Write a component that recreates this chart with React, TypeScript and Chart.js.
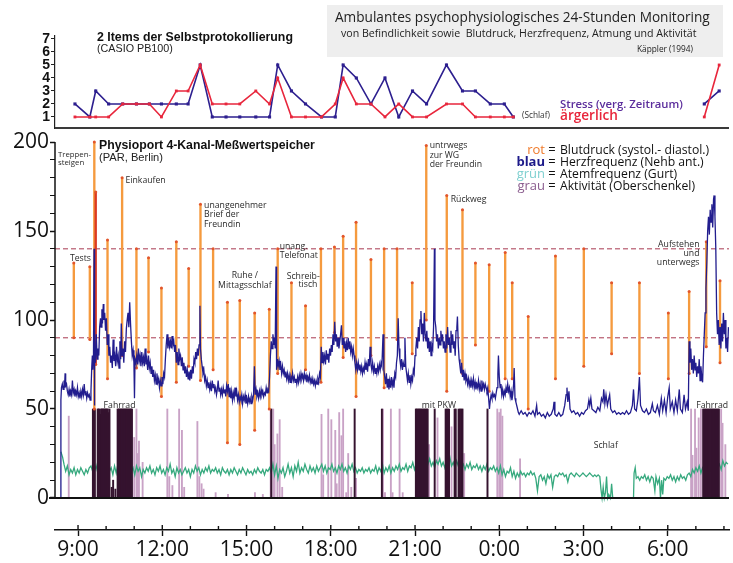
import React, { useEffect, useRef } from 'react';
import { Chart, registerables } from 'chart.js';

Chart.register(...registerables);

// Time axis in hours counted from midnight of the first day (24 = 0:00 next day)
const X_MIN = 8.18;
const X_MAX = 32.18;
const HOUR_TICKS = [9, 10, 11, 12, 13, 14, 15, 16, 17, 18, 19, 20, 21, 22, 23, 24, 25, 26, 27, 28, 29, 30, 31, 32];
const MAIN_TICKS = [0, 10, 20, 30, 40, 50, 60, 70, 80, 90, 100, 110, 120, 130, 140, 150, 160, 170, 180, 190, 200];
const SCORE_TICKS = [1, 2, 3, 4, 5, 6, 7];
const REF_LEVELS = [140, 90];

// Self-report items (CASIO PB100)
const SELF_TIMES = [8.89, 9.42, 9.63, 10.09, 10.59, 11.08, 11.54, 11.97, 12.5, 12.92, 13.35, 13.78, 14.27, 14.76, 15.33, 15.82, 16.11, 16.6, 17.1, 17.67, 18.16, 18.44, 18.91, 19.43, 19.93, 20.42, 20.91, 21.41, 22.12, 22.69, 23.15, 23.68, 24.18, 24.5, 28.0, 31.3, 31.83];
const STRESS = [2, 1, 3, 2, 2, 2, 2, 2, 2, 2, 5, 1, 1, 1, 1, 1, 5, 3, 2, 1, 1, 5, 4, 2, 4, 1, 3, 2, 5, 3, 3, 2, 2, 1, null, 2, 3];
const ANGER = [1, 1, 1, 1, 2, 2, 2, 1, 3, 3, 5, 2, 2, 2, 3, 2, 4, 1, 1, 1, 2, 4, 2, 2, 1, 2, 1, 1, 2, 2, 1, 1, 1, 1, null, 1, 5];

// Blood pressure readings (systolic / diastolic, mmHg)
const BP_TIMES = [8.85, 9.42, 9.58, 9.63, 10.05, 10.57, 11.08, 11.51, 11.97, 12.5, 12.94, 13.36, 13.81, 14.32, 14.76, 15.29, 15.81, 16.11, 16.6, 17.1, 17.65, 18.13, 18.44, 18.9, 19.43, 19.9, 20.36, 20.9, 21.4, 22.13, 22.69, 23.15, 23.64, 24.21, 24.46, 25.03, 26.0, 27.01, 28.0, 28.99, 30.02, 30.76, 31.37, 31.86];
const BP_SYS = [132, 130, 200, 172, 145, 180, 140, 135, 118, 144, 129, 165, 140, 110, 111, 104, 106, 140, 121, 108, 140, 141, 147, 155, 134, 140, 140, 121, 198, 170, 162, 132, 131, 138, 121, 102, 136, 140, 121, 121, 104, 116, 144, 122];
const BP_DIA = [90, 89, 50, 75, 67, 80, 73, 82, 57, 65, 74, 66, 72, 31, 30, 38, 50, 70, 68, 72, 65, 93, 79, 57, 80, 62, 89, 81, 100, 60, 70, 86, 60, 67, 67, 50, 67, 74, 81, 70, 67, 70, 85, 76];

// Heart rate trace [hour, bpm]
const HR_TRACE: [number, number][] = [
  [8.385, 0], [8.39, 55], [8.41, 62], [8.44, 64], [8.47, 61], [8.5, 66], [8.52, 62], [8.54, 70], [8.56, 63], [8.59, 64], [8.62, 60], [8.65, 58], [8.68, 61], [8.71, 57], [8.74, 60], [8.77, 58], [8.8, 66], [8.83, 59], [8.86, 61], [8.89, 57], [8.92, 60], [8.95, 58], [8.98, 62], [9.01, 57], [9.04, 59], [9.07, 56], [9.1, 60], [9.13, 57], [9.16, 61], [9.19, 58], [9.22, 64], [9.25, 58], [9.28, 60], [9.31, 56], [9.34, 59], [9.37, 57], [9.4, 58], [9.43, 55], [9.46, 60],
  [9.49, 74], [9.51, 80], [9.53, 72], [9.55, 78], [9.57, 140], [9.58, 52], [9.6, 80], [9.62, 76], [9.65, 92], [9.68, 78], [9.71, 84], [9.74, 80], [9.77, 96], [9.8, 101], [9.82, 96], [9.85, 106], [9.87, 98], [9.9, 109], [9.92, 100], [9.95, 104], [9.98, 94], [10.01, 101], [10.04, 86], [10.07, 92], [10.1, 80], [10.13, 85], [10.16, 76], [10.19, 80], [10.22, 73], [10.25, 89], [10.28, 77], [10.31, 80], [10.34, 74], [10.37, 85], [10.4, 77], [10.43, 80], [10.46, 73], [10.49, 88], [10.52, 78], [10.54, 98], [10.57, 80], [10.6, 84], [10.63, 76], [10.66, 88], [10.69, 82], [10.72, 95], [10.75, 100], [10.78, 104], [10.81, 96], [10.84, 110], [10.87, 98], [10.9, 88], [10.93, 80], [10.96, 83], [10.99, 76], [11.01, 56], [11.03, 78],
  [11.06, 76], [11.09, 80], [11.12, 75], [11.15, 84], [11.18, 77], [11.21, 80], [11.24, 74], [11.27, 82], [11.3, 76], [11.33, 79], [11.36, 74], [11.39, 84], [11.42, 75], [11.45, 78], [11.48, 72], [11.51, 80], [11.54, 73], [11.57, 76], [11.6, 70], [11.63, 74], [11.66, 68], [11.69, 72], [11.72, 66], [11.75, 69], [11.78, 64], [11.81, 70], [11.84, 65], [11.87, 67], [11.9, 62], [11.93, 66], [11.96, 63], [11.99, 68], [12.02, 64], [12.05, 70], [12.08, 68], [12.11, 78], [12.14, 86], [12.17, 92], [12.2, 84], [12.23, 90], [12.26, 85], [12.29, 88], [12.32, 84], [12.35, 91], [12.38, 86], [12.41, 88], [12.44, 82], [12.47, 86], [12.5, 76], [12.53, 82], [12.56, 75], [12.59, 84], [12.62, 78], [12.65, 80], [12.68, 74], [12.71, 79], [12.74, 72], [12.77, 76], [12.8, 70], [12.83, 74], [12.86, 68], [12.89, 72], [12.92, 67], [12.95, 71], [12.98, 66],
  [13.01, 72], [13.04, 67], [13.07, 74], [13.1, 70], [13.13, 78], [13.16, 76], [13.19, 82], [13.22, 78], [13.25, 84], [13.28, 80], [13.31, 86], [13.34, 108], [13.36, 84], [13.39, 78], [13.42, 74], [13.45, 70], [13.48, 72], [13.51, 66], [13.54, 68], [13.57, 63], [13.6, 66], [13.63, 62], [13.66, 65], [13.69, 61], [13.72, 64], [13.75, 60], [13.78, 66], [13.81, 62], [13.84, 64], [13.87, 60], [13.9, 62], [13.93, 58], [13.96, 61], [13.99, 66], [14.02, 60], [14.05, 62], [14.08, 58], [14.11, 61], [14.14, 58], [14.17, 62], [14.2, 59], [14.23, 61], [14.26, 57], [14.29, 63], [14.32, 60], [14.35, 64], [14.38, 57], [14.41, 62], [14.44, 56], [14.47, 60], [14.5, 55], [14.53, 59], [14.56, 56], [14.59, 62], [14.62, 57], [14.65, 60], [14.68, 55], [14.71, 58], [14.74, 54], [14.77, 57], [14.8, 55], [14.83, 58], [14.86, 53], [14.89, 57], [14.92, 55], [14.95, 58], [14.98, 53],
  [15.01, 56], [15.04, 53], [15.07, 57], [15.1, 54], [15.13, 56], [15.16, 53], [15.19, 57], [15.22, 55], [15.25, 58], [15.28, 74], [15.31, 58], [15.34, 61], [15.37, 57], [15.4, 59], [15.43, 56], [15.46, 60], [15.49, 57], [15.52, 61], [15.55, 58], [15.58, 60], [15.61, 57], [15.64, 59], [15.67, 58], [15.7, 62], [15.73, 59], [15.76, 61], [15.79, 60], [15.82, 68], [15.85, 80], [15.88, 88], [15.91, 84], [15.94, 92], [15.97, 86], [16.0, 90], [16.02, 84], [16.05, 130], [16.07, 72], [16.1, 78], [16.13, 74], [16.16, 77], [16.19, 72], [16.22, 75], [16.25, 70], [16.28, 74], [16.31, 70], [16.34, 72], [16.37, 68], [16.4, 71], [16.43, 67], [16.46, 70], [16.49, 66], [16.52, 69], [16.55, 65], [16.58, 68], [16.61, 66], [16.64, 70], [16.67, 66], [16.7, 68], [16.73, 65], [16.76, 67], [16.79, 64], [16.82, 68], [16.85, 65], [16.88, 69], [16.91, 66], [16.94, 70], [16.97, 67],
  [17.0, 69], [17.03, 66], [17.06, 70], [17.09, 67], [17.12, 69], [17.15, 65], [17.18, 68], [17.21, 66], [17.24, 69], [17.27, 65], [17.3, 67], [17.33, 64], [17.36, 67], [17.39, 64], [17.42, 66], [17.45, 63], [17.48, 66], [17.51, 64], [17.54, 67], [17.57, 65], [17.6, 70], [17.63, 68], [17.66, 85], [17.69, 76], [17.72, 82], [17.75, 77], [17.78, 80], [17.81, 75], [17.84, 83], [17.87, 78], [17.9, 81], [17.93, 76], [17.96, 84], [17.99, 80], [18.02, 86], [18.05, 82], [18.08, 92], [18.11, 86], [18.14, 99], [18.17, 88], [18.2, 92], [18.23, 85], [18.26, 90], [18.29, 84], [18.32, 88], [18.35, 92], [18.38, 97], [18.41, 86], [18.44, 90], [18.47, 84], [18.5, 88], [18.53, 82], [18.56, 87], [18.59, 83], [18.62, 90], [18.65, 84], [18.68, 88], [18.71, 82], [18.74, 85], [18.77, 80], [18.8, 84], [18.83, 80], [18.86, 76], [18.89, 72], [18.92, 76], [18.95, 72], [18.98, 76],
  [19.01, 72], [19.04, 75], [19.07, 71], [19.1, 74], [19.13, 70], [19.16, 73], [19.19, 71], [19.22, 76], [19.25, 72], [19.28, 75], [19.31, 71], [19.34, 78], [19.37, 74], [19.4, 85], [19.43, 75], [19.46, 72], [19.49, 76], [19.52, 71], [19.55, 74], [19.58, 70], [19.61, 73], [19.64, 70], [19.67, 74], [19.7, 71], [19.73, 75], [19.76, 72], [19.79, 76], [19.82, 74], [19.86, 92], [19.89, 72], [19.92, 68], [19.95, 64], [19.98, 70], [20.01, 62], [20.04, 67], [20.07, 61], [20.1, 66], [20.13, 62], [20.16, 68], [20.19, 63], [20.22, 66], [20.25, 62], [20.28, 70], [20.31, 68], [20.34, 76], [20.37, 80], [20.4, 101], [20.43, 84], [20.46, 78], [20.49, 74], [20.52, 78], [20.55, 72], [20.58, 76], [20.61, 74], [20.64, 90], [20.67, 74], [20.7, 70], [20.73, 66], [20.76, 70], [20.79, 65], [20.82, 69], [20.85, 64], [20.88, 68], [20.91, 66], [20.94, 72], [20.97, 70],
  [21.0, 80], [21.03, 84], [21.06, 90], [21.09, 84], [21.12, 96], [21.15, 88], [21.18, 100], [21.21, 105], [21.24, 92], [21.27, 98], [21.3, 88], [21.33, 104], [21.36, 92], [21.39, 88], [21.42, 94], [21.45, 84], [21.48, 90], [21.51, 82], [21.54, 88], [21.57, 80], [21.6, 86], [21.63, 84], [21.66, 96], [21.69, 140], [21.71, 100], [21.74, 96], [21.77, 88], [21.8, 92], [21.83, 84], [21.86, 90], [21.89, 86], [21.92, 94], [21.95, 88], [21.98, 92], [22.01, 84], [22.04, 88], [22.07, 82], [22.1, 92], [22.13, 84], [22.16, 96], [22.19, 86], [22.22, 90], [22.25, 82], [22.28, 94], [22.31, 86], [22.34, 92], [22.37, 84], [22.4, 88], [22.43, 80], [22.46, 94], [22.49, 96], [22.51, 102], [22.54, 86], [22.57, 78], [22.6, 74], [22.63, 70], [22.66, 76], [22.69, 68], [22.72, 72], [22.75, 66], [22.78, 70], [22.81, 66], [22.84, 68], [22.87, 64], [22.9, 67], [22.93, 63], [22.96, 66], [22.99, 62],
  [23.02, 66], [23.05, 63], [23.08, 67], [23.11, 62], [23.14, 65], [23.17, 61], [23.2, 64], [23.23, 62], [23.26, 66], [23.29, 61], [23.32, 64], [23.35, 60], [23.38, 66], [23.41, 62], [23.44, 64], [23.47, 61], [23.5, 64], [23.53, 62], [23.56, 60], [23.59, 62], [23.62, 56], [23.65, 50], [23.68, 55], [23.71, 58], [23.74, 56], [23.77, 59], [23.8, 57], [23.83, 58], [23.86, 56], [23.89, 59], [23.92, 62], [23.95, 70], [23.97, 80], [24.0, 68], [24.03, 62], [24.06, 64], [24.09, 58], [24.12, 61], [24.15, 57], [24.18, 60], [24.21, 58], [24.24, 62], [24.27, 59], [24.3, 64], [24.33, 60], [24.36, 62], [24.39, 57], [24.42, 60], [24.45, 55], [24.48, 58], [24.51, 64], [24.53, 73], [24.56, 56], [24.59, 54], [24.62, 52], [24.65, 50], [24.68, 48],
  [24.71, 47], [24.78, 49], [24.85, 47], [24.92, 48], [24.99, 46], [25.06, 48], [25.13, 47], [25.2, 49], [25.27, 46], [25.33, 52], [25.36, 47], [25.43, 48], [25.5, 46], [25.57, 47], [25.64, 45], [25.71, 48], [25.78, 46], [25.85, 47], [25.92, 50], [25.95, 54], [25.98, 47], [26.05, 46], [26.12, 48], [26.19, 46], [26.26, 47], [26.33, 52], [26.38, 58], [26.41, 62], [26.44, 54], [26.48, 60], [26.52, 50], [26.58, 48], [26.65, 49], [26.72, 47], [26.79, 48], [26.86, 46], [26.93, 48], [27.0, 47], [27.07, 49], [27.14, 50], [27.19, 55], [27.22, 52], [27.26, 56], [27.3, 50], [27.37, 49], [27.44, 48], [27.51, 51], [27.58, 49], [27.64, 56], [27.69, 54], [27.72, 61], [27.76, 53], [27.8, 58], [27.85, 52], [27.9, 56], [27.93, 58], [27.97, 50],
  [28.04, 48], [28.11, 49], [28.18, 47], [28.25, 48], [28.32, 47], [28.39, 48], [28.46, 47], [28.53, 49], [28.6, 47], [28.67, 48], [28.74, 52], [28.78, 61], [28.82, 50], [28.88, 49], [28.94, 56], [28.99, 68], [29.03, 52], [29.1, 49], [29.17, 48], [29.24, 50], [29.31, 47], [29.38, 48], [29.45, 53], [29.49, 49], [29.56, 48], [29.63, 52], [29.7, 47], [29.77, 56], [29.82, 49], [29.88, 55], [29.94, 48], [30.0, 57], [30.05, 62], [30.09, 50], [30.16, 54], [30.22, 48], [30.28, 55], [30.34, 49], [30.41, 61], [30.45, 50], [30.52, 48], [30.58, 58], [30.63, 50], [30.69, 54], [30.73, 49],
  [30.76, 88], [30.79, 76], [30.82, 84], [30.85, 72], [30.88, 78], [30.91, 70], [30.94, 80], [30.97, 72], [31.0, 76], [31.03, 68], [31.06, 74], [31.09, 70], [31.12, 78], [31.15, 66], [31.18, 74], [31.21, 68], [31.24, 65], [31.27, 80], [31.3, 92], [31.33, 104], [31.36, 118], [31.39, 132], [31.42, 150], [31.45, 158], [31.48, 148], [31.51, 162], [31.54, 155], [31.57, 165], [31.6, 152], [31.63, 168], [31.65, 170], [31.68, 158], [31.71, 140], [31.74, 104], [31.77, 92], [31.8, 100], [31.83, 86], [31.86, 96], [31.89, 84], [31.92, 98], [31.95, 88], [31.98, 104], [32.01, 92], [32.04, 100], [32.07, 84], [32.1, 90], [32.13, 82], [32.16, 96],
];

// Respiration trace [hour, breaths/min]
const RESP_TRACE: [number, number][] = [
  [8.39, 26], [8.45, 23], [8.5, 19], [8.56, 15], [8.62, 18], [8.68, 13], [8.74, 16], [8.8, 14], [8.86, 17], [8.92, 13], [8.98, 16], [9.04, 14], [9.1, 17], [9.16, 15], [9.22, 13], [9.28, 16], [9.34, 14], [9.4, 17], [9.46, 18], [9.52, 15], [9.58, 19], [9.64, 16], [9.7, 20], [9.76, 15], [9.82, 18], [9.88, 14], [9.94, 19], [10.0, 16], [10.06, 21], [10.12, 15], [10.18, 17], [10.24, 13], [10.3, 18], [10.36, 14], [10.42, 19], [10.48, 16], [10.54, 20], [10.6, 15], [10.66, 18], [10.72, 14], [10.78, 17], [10.84, 19], [10.9, 15], [10.96, 17],
  [11.02, 13], [11.08, 18], [11.14, 15], [11.2, 17], [11.26, 12], [11.32, 16], [11.38, 14], [11.44, 17], [11.5, 15], [11.56, 18], [11.62, 14], [11.68, 16], [11.74, 13], [11.8, 17], [11.86, 15], [11.92, 18], [11.98, 14], [12.04, 16], [12.1, 13], [12.16, 17], [12.22, 15], [12.28, 19], [12.34, 14], [12.4, 16], [12.46, 12], [12.52, 17], [12.58, 14], [12.64, 16], [12.7, 13], [12.76, 15], [12.82, 17], [12.88, 14], [12.94, 16],
  [13.0, 12], [13.06, 16], [13.12, 14], [13.18, 18], [13.24, 15], [13.3, 17], [13.36, 13], [13.42, 16], [13.48, 14], [13.54, 17], [13.6, 15], [13.66, 18], [13.72, 14], [13.78, 16], [13.84, 15], [13.9, 17], [13.96, 14], [14.02, 16], [14.08, 13], [14.14, 17], [14.2, 15], [14.26, 14], [14.32, 16], [14.38, 13], [14.44, 16], [14.5, 14], [14.56, 17], [14.62, 15], [14.68, 13], [14.74, 16], [14.8, 14], [14.86, 17], [14.92, 15], [14.98, 13],
  [15.04, 16], [15.1, 14], [15.16, 15], [15.22, 13], [15.28, 16], [15.34, 14], [15.4, 17], [15.46, 15], [15.52, 14], [15.58, 16], [15.64, 13], [15.7, 16], [15.76, 15], [15.82, 17], [15.88, 14], [15.94, 19], [16.0, 13], [16.06, 18], [16.12, 11], [16.18, 16], [16.24, 14], [16.3, 17], [16.36, 12], [16.42, 15], [16.48, 19], [16.54, 14], [16.6, 17], [16.66, 12], [16.72, 18], [16.78, 15], [16.84, 20], [16.9, 14], [16.96, 17],
  [17.02, 15], [17.08, 19], [17.14, 16], [17.2, 14], [17.26, 18], [17.32, 15], [17.38, 17], [17.44, 14], [17.5, 18], [17.56, 15], [17.62, 17], [17.68, 19], [17.74, 15], [17.8, 18], [17.86, 14], [17.92, 17], [17.98, 16], [18.04, 19], [18.1, 15], [18.16, 17], [18.22, 14], [18.28, 18], [18.34, 16], [18.4, 19], [18.46, 15], [18.52, 17], [18.58, 14], [18.64, 18], [18.7, 16], [18.76, 19], [18.82, 15], [18.88, 17], [18.94, 14],
  [19.0, 16], [19.06, 15], [19.12, 17], [19.18, 14], [19.24, 16], [19.3, 15], [19.36, 17], [19.42, 14], [19.48, 16], [19.54, 15], [19.6, 18], [19.66, 14], [19.72, 17], [19.78, 15], [19.84, 19], [19.9, 14], [19.96, 17], [20.02, 15], [20.08, 18], [20.14, 14], [20.2, 17], [20.26, 15], [20.32, 18], [20.38, 16], [20.44, 19], [20.5, 15], [20.56, 17], [20.62, 16], [20.68, 19], [20.74, 15], [20.8, 18], [20.86, 17], [20.92, 20], [20.98, 16],
  [21.04, 19], [21.1, 17], [21.16, 21], [21.22, 18], [21.28, 20], [21.34, 17], [21.4, 21], [21.46, 19], [21.52, 22], [21.58, 18], [21.64, 20], [21.7, 17], [21.76, 21], [21.82, 19], [21.88, 22], [21.94, 18], [22.0, 20], [22.06, 17], [22.12, 21], [22.18, 19], [22.24, 23], [22.3, 18], [22.36, 20], [22.42, 17], [22.48, 21], [22.54, 18], [22.6, 20], [22.66, 17], [22.72, 19], [22.78, 16], [22.84, 19], [22.9, 17], [22.96, 20],
  [23.02, 16], [23.08, 18], [23.14, 17], [23.2, 19], [23.26, 16], [23.32, 18], [23.38, 15], [23.44, 18], [23.5, 16], [23.56, 19], [23.62, 15], [23.68, 17], [23.74, 16], [23.8, 18], [23.86, 15], [23.92, 17], [23.98, 14], [24.04, 18], [24.1, 13], [24.16, 16], [24.22, 12], [24.28, 15], [24.34, 14], [24.4, 17], [24.46, 12], [24.52, 15], [24.58, 11], [24.64, 14], [24.7, 12], [24.76, 15], [24.82, 13], [24.88, 14], [24.94, 12],
  [25.0, 14], [25.06, 13], [25.12, 15], [25.18, 13], [25.24, 14], [25.3, 11], [25.36, 4], [25.42, 12], [25.48, 13], [25.54, 10], [25.6, 12], [25.66, 8], [25.72, 13], [25.78, 11], [25.84, 13], [25.9, 6], [25.96, 12], [26.02, 13], [26.08, 12], [26.14, 14], [26.2, 13], [26.26, 14], [26.32, 12], [26.38, 13], [26.44, 9], [26.5, 13], [26.56, 14], [26.62, 13], [26.68, 12], [26.74, 14], [26.8, 13], [26.86, 12], [26.92, 13], [26.98, 14],
  [27.04, 13], [27.1, 12], [27.16, 13], [27.22, 14], [27.28, 13], [27.34, 12], [27.4, 13], [27.46, 12], [27.52, 13], [27.58, 12], [27.62, 5], [27.66, 0], [27.7, 6], [27.74, 0], [27.78, 3], [27.82, 12], [27.86, 0], [27.9, 2], [27.96, 0], [28.0, 8], [28.04, 0], [28.1, 0], [28.5, 0], [28.78, 0],
  [28.8, 14], [28.84, 17], [28.88, 11], [28.94, 12], [29.0, 10], [29.06, 12], [29.12, 11], [29.18, 13], [29.24, 10], [29.3, 12], [29.36, 9], [29.42, 12], [29.48, 11], [29.54, 4], [29.58, 12], [29.64, 8], [29.7, 11], [29.74, 0], [29.78, 10], [29.82, 2], [29.86, 11], [29.92, 10], [29.98, 12],
  [30.04, 11], [30.1, 13], [30.16, 10], [30.22, 12], [30.28, 9], [30.34, 12], [30.4, 10], [30.46, 13], [30.52, 11], [30.58, 12], [30.64, 10], [30.7, 13], [30.76, 14], [30.82, 12], [30.88, 16], [30.94, 14], [31.0, 17], [31.06, 15], [31.12, 18], [31.18, 14], [31.24, 17], [31.3, 15], [31.36, 19], [31.42, 16], [31.48, 18], [31.54, 15], [31.6, 19], [31.66, 16], [31.72, 20], [31.78, 17], [31.84, 19], [31.9, 16], [31.96, 21], [32.02, 18], [32.08, 20], [32.14, 19],
];

// Thigh activity, light strokes [hour, level]
const ACT_LIGHT: [number, number][] = [
  [8.67, 46], [11.0, 34], [11.08, 50], [11.13, 25], [11.17, 32], [11.3, 20], [12.18, 50], [12.25, 12], [12.36, 7], [12.6, 50], [12.7, 38], [12.78, 6], [13.25, 43], [13.32, 12], [13.4, 8], [13.47, 5], [13.9, 3], [14.34, 2], [15.3, 3], [15.58, 2],
  [15.86, 50], [15.95, 50], [16.0, 30], [16.1, 36], [16.18, 44], [16.27, 6], [17.67, 47], [17.73, 13], [17.91, 50], [18.02, 44], [18.16, 38], [18.21, 8], [18.3, 48], [18.38, 35], [18.44, 50], [18.55, 3], [18.62, 25], [18.73, 6], [18.9, 11],
  [19.86, 50], [19.93, 3], [20.14, 50], [20.2, 3], [20.45, 50], [20.56, 3], [21.5, 30], [21.8, 45], [22.3, 40], [22.75, 25], [23.93, 50], [24.0, 48], [24.05, 50], [24.11, 46], [24.74, 22],
  [30.83, 50], [30.88, 24], [30.97, 50], [31.02, 28], [31.1, 45], [31.18, 50], [31.9, 50], [31.95, 42], [32.05, 30],
];

// Thigh activity, dense strokes [hour, level]
const ACT_DARK: [number, number][] = [
  [9.53, 50], [9.57, 50], [9.6, 50],
  [9.7, 50], [9.73, 50], [9.76, 50], [9.79, 47], [9.82, 50], [9.85, 50], [9.88, 50], [9.91, 50], [9.94, 50], [9.97, 50], [10.0, 50], [10.03, 50], [10.06, 50], [10.09, 48], [10.12, 50],
  [10.2, 6], [10.25, 10], [10.33, 5],
  [10.41, 50], [10.44, 50], [10.47, 50], [10.5, 50], [10.53, 50], [10.56, 50], [10.59, 50], [10.62, 50], [10.65, 50], [10.68, 50], [10.71, 50], [10.74, 50], [10.77, 50], [10.8, 50], [10.83, 50], [10.86, 50], [10.89, 50], [10.92, 50],
  [15.88, 50], [18.85, 50], [19.82, 50],
  [21.03, 50], [21.06, 50], [21.1, 50], [21.14, 50], [21.18, 50], [21.22, 50], [21.26, 50], [21.3, 50], [21.34, 50], [21.38, 50], [21.42, 50], [21.45, 50],
  [21.7, 50], [22.09, 50], [22.13, 50], [22.17, 50], [22.21, 50], [22.41, 50], [22.45, 50], [22.55, 50], [22.6, 50], [22.65, 50], [22.69, 50], [23.58, 50],
  [31.26, 50], [31.3, 50], [31.34, 50], [31.38, 50], [31.42, 50], [31.46, 50], [31.5, 50], [31.54, 50], [31.58, 50], [31.62, 50], [31.66, 50], [31.7, 50], [31.74, 50], [31.78, 50], [31.82, 50],
];

// Event notes placed at [hour, value] on the physiological panel
type Note = { h: number; v: number; lines: string[]; align?: CanvasTextAlign; size?: number; gap?: number };
const NOTES: Note[] = [
  { h: 8.285, v: 191.6, lines: ['Treppen-', 'steigen'], size: 7.8, gap: 8 },
  { h: 10.69, v: 177, lines: ['Einkaufen'] },
  { h: 13.49, v: 163, lines: ['unangenehmer', 'Brief der', 'Freundin'], gap: 9.5 },
  { h: 8.71, v: 133.1, lines: ['Tests'] },
  { h: 14.94, v: 123.6, lines: ['Ruhe /', 'Mittagsschlaf'], align: 'center', gap: 10 },
  { h: 16.18, v: 139.9, lines: ['unang.', 'Telefonat'] },
  { h: 16.43, v: 123, lines: ['Schreib-'] },
  { h: 16.85, v: 118.5, lines: ['tisch'] },
  { h: 21.52, v: 196.6, lines: ['untrwegs', 'zur WG', 'der Freundin'], gap: 9.5 },
  { h: 22.27, v: 166.3, lines: ['Rückweg'] },
  { h: 31.13, v: 141, lines: ['Aufstehen', 'und', 'unterwegs'], align: 'right' },
  { h: 9.91, v: 50.6, lines: ['Fahrrad'] },
  { h: 21.24, v: 50.6, lines: ['mit PKW'] },
  { h: 31.01, v: 50.6, lines: ['Fahrrad'] },
  { h: 27.36, v: 28.1, lines: ['Schlaf'] },
];

const LEGEND = [
  { word: 'rot', color: '#f07a2a', weight: 'normal', text: 'Blutdruck (systol.- diastol.)' },
  { word: 'blau', color: '#1d1a8a', weight: 'bold', text: 'Herzfrequenz (Nehb ant.)' },
  { word: 'grün', color: '#7fd0d0', weight: 'normal', text: 'Atemfrequenz (Gurt)' },
  { word: 'grau', color: '#8a5c8e', weight: 'normal', text: 'Aktivität (Oberschenkel)' },
];

const SANS = '"Open Sans", "Noto Sans", sans-serif';
const ARIAL = '"Liberation Sans", Arial, sans-serif';

function fitText(
  ctx: CanvasRenderingContext2D, text: string, x: number, y: number, width: number,
  weight: string, family: string, color: string, align: CanvasTextAlign = 'left',
) {
  ctx.font = `${weight} 20px ${family}`;
  const w = ctx.measureText(text).width;
  const size = (20 * width) / w;
  ctx.font = `${weight} ${size}px ${family}`;
  ctx.fillStyle = color;
  ctx.textAlign = align;
  ctx.textBaseline = 'alphabetic';
  ctx.fillText(text, x, y);
}

function plainText(
  ctx: CanvasRenderingContext2D, text: string, x: number, y: number, size: number,
  weight: string, family: string, color: string, align: CanvasTextAlign = 'left',
) {
  ctx.font = `${weight} ${size}px ${family}`;
  ctx.fillStyle = color;
  ctx.textAlign = align;
  ctx.textBaseline = 'alphabetic';
  ctx.fillText(text, x, y);
}

const decorPlugin = {
  id: 'decor',
  beforeDraw(chart: Chart) {
    const { ctx } = chart;
    ctx.save();
    ctx.fillStyle = '#eeeeee';
    ctx.fillRect(327, 5, 396, 52);
    ctx.restore();
  },
  afterDraw(chart: Chart) {
    const { ctx, chartArea } = chart;
    const xs = chart.scales.x;
    const yT = chart.scales.yTop;
    const yM = chart.scales.yMain;
    ctx.save();

    // separator between the two panels
    ctx.strokeStyle = '#3a3a3a';
    ctx.lineWidth = 2;
    ctx.beginPath();
    ctx.moveTo(chartArea.left, yT.bottom);
    ctx.lineTo(chartArea.right, yT.bottom);
    ctx.stroke();

    // physiological value axis and zero line
    ctx.strokeStyle = '#111';
    ctx.lineWidth = 1.5;
    ctx.beginPath();
    ctx.moveTo(chartArea.left, yM.getPixelForValue(200));
    ctx.lineTo(chartArea.left, yM.getPixelForValue(0));
    ctx.stroke();
    ctx.lineWidth = 2;
    ctx.beginPath();
    ctx.moveTo(chartArea.left - 6, yM.getPixelForValue(0));
    ctx.lineTo(chartArea.right, yM.getPixelForValue(0));
    ctx.stroke();

    // hour ticks rising above the time axis
    ctx.lineWidth = 1.4;
    for (const h of HOUR_TICKS) {
      const px = xs.getPixelForValue(h);
      const len = h % 3 === 0 ? 5 : 4;
      ctx.beginPath();
      ctx.moveTo(px, chartArea.bottom);
      ctx.lineTo(px, chartArea.bottom - len);
      ctx.stroke();
    }

    // headings
    fitText(ctx, 'Ambulantes psychophysiologisches 24-Stunden Monitoring', 335, 22, 375, 'normal', SANS, '#222');
    fitText(ctx, 'von Befindlichkeit sowie  Blutdruck, Herzfrequenz, Atmung und Aktivität', 341, 36.5, 356, 'normal', SANS, '#222');
    fitText(ctx, 'Käppler (1994)', 637, 51.5, 56, 'normal', SANS, '#222');
    fitText(ctx, '2 Items der Selbstprotokollierung', 97, 41, 196, 'bold', ARIAL, '#111');
    fitText(ctx, '(CASIO PB100)', 97, 52, 76, 'normal', ARIAL, '#222');
    fitText(ctx, 'Physioport 4-Kanal-Meßwertspeicher', 99, 149, 216, 'bold', ARIAL, '#111');
    fitText(ctx, '(PAR, Berlin)', 99, 160.5, 64, 'normal', ARIAL, '#222');

    // self-report key
    fitText(ctx, 'Stress (verg. Zeitraum)', 560, 108, 123, '600', SANS, '#5b2d9c');
    fitText(ctx, 'ärgerlich', 560, 120, 58, '600', SANS, '#e8263c');
    fitText(ctx, '(Schlaf)', 522, 118, 28, 'normal', SANS, '#333');

    // channel key
    LEGEND.forEach((item, i) => {
      const base = 154 + i * 12;
      plainText(ctx, item.word, 545, base, 13, item.weight, SANS, item.color, 'right');
      plainText(ctx, '=', 552, base, 13, 'normal', SANS, '#111', 'center');
      plainText(ctx, item.text, 560, base, 12.2, 'normal', SANS, '#111');
    });

    // event notes
    for (const n of NOTES) {
      const px = xs.getPixelForValue(n.h);
      const py = yM.getPixelForValue(n.v);
      const gap = n.gap ?? 9;
      n.lines.forEach((line, i) => {
        plainText(ctx, line, px, py + i * gap, n.size ?? 8.7, 'normal', SANS, '#2a2a2a', n.align ?? 'left');
      });
    }
    ctx.restore();
  },
};

export default function App() {
  const canvasRef = useRef<HTMLCanvasElement | null>(null);

  useEffect(() => {
    const canvas = canvasRef.current;
    if (!canvas) return;

    const pts = (arr: [number, number][]) => arr.map(([x, y]) => ({ x, y }));
    const bpEnds = [
      ...BP_TIMES.map((x, i) => ({ x, y: BP_SYS[i] })),
      ...BP_TIMES.map((x, i) => ({ x, y: BP_DIA[i] })),
    ];

    const chart = new Chart(canvas, {
      type: 'line',
      data: {
        datasets: [
          ...REF_LEVELS.map((lvl) => ({
            type: 'line' as const,
            data: [{ x: X_MIN, y: lvl }, { x: X_MAX, y: lvl }],
            yAxisID: 'yMain',
            borderColor: '#a8384f',
            borderWidth: 1,
            borderDash: [5, 3],
            pointRadius: 0,
            order: 30,
          })),
          {
            type: 'bar' as const,
            data: pts(ACT_LIGHT),
            yAxisID: 'yMain',
            backgroundColor: '#c9a2c6',
            barThickness: 1.2,
            grouped: false,
            order: 20,
          },
          {
            type: 'line' as const,
            data: pts(RESP_TRACE),
            yAxisID: 'yMain',
            borderColor: '#36a97e',
            borderWidth: 1.3,
            pointRadius: 0,
            order: 15,
          },
          {
            type: 'bar' as const,
            data: pts(ACT_DARK),
            yAxisID: 'yMain',
            backgroundColor: '#35132f',
            barThickness: 1.3,
            grouped: false,
            order: 12,
          },
          {
            type: 'bar' as const,
            data: BP_TIMES.map((x, i) => ({ x, y: [BP_DIA[i], BP_SYS[i]] })),
            yAxisID: 'yMain',
            backgroundColor: BP_TIMES.map((_, i) => (BP_SYS[i] === 172 ? '#dc3a22' : '#f59a3e')),
            barThickness: 1.7,
            grouped: false,
            order: 8,
          },
          {
            type: 'scatter' as const,
            data: bpEnds,
            yAxisID: 'yMain',
            pointRadius: 1.5,
            pointBackgroundColor: '#e2552c',
            pointBorderWidth: 0,
            order: 7,
          },
          {
            type: 'line' as const,
            data: pts(HR_TRACE),
            yAxisID: 'yMain',
            borderColor: '#221d8e',
            borderWidth: 1.3,
            pointRadius: 0,
            order: 5,
          },
          {
            type: 'line' as const,
            data: SELF_TIMES.map((x, i) => ({ x, y: STRESS[i] })),
            yAxisID: 'yTop',
            borderColor: '#2d1f8f',
            borderWidth: 1.6,
            pointStyle: 'rect',
            pointRadius: 2.2,
            pointBackgroundColor: '#2d1f8f',
            pointBorderWidth: 0,
            spanGaps: false,
            order: 3,
          },
          {
            type: 'line' as const,
            data: SELF_TIMES.map((x, i) => ({ x, y: ANGER[i] })),
            yAxisID: 'yTop',
            borderColor: '#e8263c',
            borderWidth: 1.6,
            pointStyle: 'rect',
            pointRadius: 2,
            pointBackgroundColor: '#e8263c',
            pointBorderWidth: 0,
            spanGaps: false,
            order: 2,
          },
        ],
      },
      options: {
        animation: false,
        responsive: false,
        maintainAspectRatio: false,
        events: [],
        layout: { padding: { top: 36, left: 0, right: 0, bottom: 0 } },
        plugins: { legend: { display: false }, tooltip: { enabled: false } },
        scales: {
          x: {
            type: 'linear',
            position: 'bottom',
            offset: false,
            min: X_MIN,
            max: X_MAX,
            afterBuildTicks: (s: any) => { s.ticks = HOUR_TICKS.map((value) => ({ value })); },
            afterFit: (s: any) => { s.height = 33; s.paddingLeft = 0; s.paddingRight = 0; },
            ticks: {
              autoSkip: false,
              maxRotation: 0,
              padding: 1,
              color: '#111',
              font: { family: SANS, size: 21 },
              callback: (v: any) => (Number(v) % 3 === 0 ? `${Number(v) % 24}:00` : ''),
            },
            grid: {
              offset: false,
              drawOnChartArea: false,
              tickLength: 6,
              tickWidth: 1.4,
              tickColor: (c: any) => (c.tick && c.tick.value % 3 === 0 ? '#111' : 'rgba(0,0,0,0)'),
            },
            border: { display: true, color: '#111', width: 1.5 },
          },
          yTop: {
            type: 'linear',
            position: 'left',
            stack: 'left',
            stackWeight: 92,
            weight: 1,
            min: 0.15,
            max: 7.23,
            afterBuildTicks: (s: any) => { s.ticks = SCORE_TICKS.map((value) => ({ value })); },
            afterFit: (s: any) => { s.width = 55; s.paddingTop = 0; s.paddingBottom = 0; },
            ticks: {
              autoSkip: false,
              padding: 1,
              color: '#111',
              font: { family: ARIAL, size: 14, weight: 'bold' },
              callback: (v: any) => String(v),
            },
            grid: { drawOnChartArea: false, tickLength: 4, tickColor: '#222', tickWidth: 1 },
            border: { display: true, color: '#222', width: 1.2 },
          },
          yMain: {
            type: 'linear',
            position: 'left',
            stack: 'left',
            stackWeight: 402,
            weight: 0,
            min: -18,
            max: 207.9,
            afterBuildTicks: (s: any) => { s.ticks = MAIN_TICKS.map((value) => ({ value })); },
            afterFit: (s: any) => { s.width = 55; s.paddingTop = 0; s.paddingBottom = 0; },
            ticks: {
              autoSkip: false,
              padding: 1,
              color: '#111',
              font: { family: SANS, size: 21 },
              callback: (v: any) => (Number(v) % 50 === 0 ? String(v) : ''),
            },
            grid: {
              drawOnChartArea: false,
              tickLength: 5,
              tickColor: '#111',
              tickWidth: (c: any) => (c.tick && c.tick.value % 50 === 0 ? 1.5 : 1),
            },
            border: { display: false },
          },
        },
      },
      plugins: [decorPlugin],
    } as any);

    return () => chart.destroy();
  }, []);

  return (
    <div style={{ position: 'fixed', left: 0, top: 0, width: 733, height: 563, background: '#fff' }}>
      <canvas ref={canvasRef} width={733} height={563} style={{ display: 'block', width: 733, height: 563 }} />
    </div>
  );
}
